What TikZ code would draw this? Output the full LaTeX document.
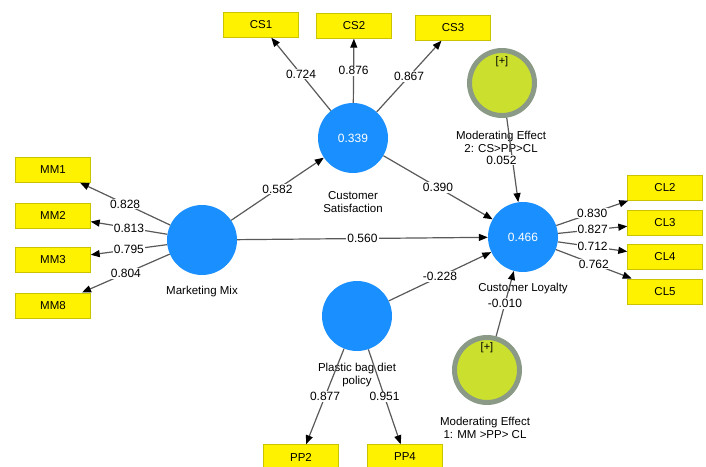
\documentclass[tikz,border=0pt]{standalone}
\usepackage{fontspec}
\setmainfont{Liberation Sans}
\usetikzlibrary{arrows.meta,positioning}
\definecolor{lvblue}{HTML}{1A8FFF}
\definecolor{modfill}{HTML}{CBE02E}
\definecolor{modring}{HTML}{8A9A86}
\definecolor{boxedge}{HTML}{C9C300}

\begin{document}
\begin{tikzpicture}[
    x=1pt, y=-1pt,
    lv/.style={circle, fill=lvblue, minimum size=70pt, inner sep=0pt, text=white, font=\fontsize{12}{14}\selectfont},
    modlv/.style={circle, fill=modfill, draw=modring, line width=5pt, minimum size=65pt, inner sep=0pt},
    ind/.style={rectangle, draw=boxedge, fill=yellow, minimum width=75pt, minimum height=25pt, font=\fontsize{11.5}{13}\selectfont},
    txt/.style={align=center, inner sep=0pt, font=\fontsize{11.5}{13}\selectfont},
    coef/.style={fill=white, inner sep=1pt, font=\fontsize{12}{14}\selectfont},
    arr/.style={-{Triangle[length=9pt, width=7pt, color=black]}, line width=1.2pt, draw=black!65}
]
\clip (0,0) rectangle (706,466);

% latent variables
\node[lv] (mm) at (202,240) {};
\node[lv] (cs) at (353,138) {0.339};
\node[lv] (cl) at (523,237) {0.466};
\node[lv] (pp) at (357,316) {};
\node[modlv] (mod2) at (502,83) {};
\node[modlv] (mod1) at (487,370) {};
\node[font=\fontsize{11}{13}\selectfont] (mod2plus) at ([yshift=21pt]mod2.center) {[+]};
\node[font=\fontsize{11}{13}\selectfont] (mod1plus) at ([yshift=22pt]mod1.center) {[+]};

% names
\node[txt] (mmtxt) at (202,292) {Marketing Mix};
\node[txt] (cstxt) at (353,202) {Customer\\Satisfaction};
\node[txt] (cltxt) at (523,289) {Customer Loyalty};
\node[txt] (pptxt) at (357,375) {Plastic bag diet\\policy};
\node[txt] (mod2txt) at (501,142) {Moderating Effect\\2: CS>PP>CL};
\node[txt] (mod1txt) at (485,428) {Moderating Effect\\1: MM >PP> CL};

% indicators
\node[ind] (mm1) at (53,170) {MM1};
\node[ind, below=20pt of mm1] (mm2) {MM2};
\node[ind, below=19pt of mm2] (mm3) {MM3};
\node[ind, below=20pt of mm3] (mm8) {MM8};
\node[ind] (cs1) at (261,25) {CS1};
\node[ind] (cs2) at (354,26) {CS2};
\node[ind] (cs3) at (453,28) {CS3};
\node[ind] (cl2) at (665,188) {CL2};
\node[ind, below=9pt of cl2] (cl3) {CL3};
\node[ind, below=9pt of cl3] (cl4) {CL4};
\node[ind, below=9pt of cl4] (cl5) {CL5};
\node[ind] (pp2) at (301,457) {PP2};
\node[ind] (pp4) at (405,457) {PP4};

% outer loadings
\draw[arr] (mm) -- node[coef] {0.828} (mm1);
\draw[arr] (mm) -- node[coef] {0.813} (mm2);
\draw[arr] (mm) -- node[coef] {0.795} (mm3);
\draw[arr] (mm) -- node[coef] {0.804} (mm8);
\draw[arr] (cs) -- node[coef] {0.724} (cs1);
\draw[arr] (cs) -- node[coef] {0.876} (cs2);
\draw[arr] (cs) -- node[coef] {0.867} (cs3);
\draw[arr] (cl) -- node[coef] {0.830} (cl2);
\draw[arr] (cl) -- node[coef] {0.827} (cl3);
\draw[arr] (cl) -- node[coef] {0.712} (cl4);
\draw[arr] (cl) -- node[coef] {0.762} (cl5);
\draw[arr] (pp) -- node[coef] {0.877} (pp2);
\draw[arr] (pp) -- node[coef] {0.951} (pp4);

% path coefficients
\draw[arr] (mm) -- node[coef] {0.582} (cs);
\draw[arr] (mm) -- node[coef] {0.560} (cl);
\draw[arr] (cs) -- node[coef] {0.390} (cl);
\draw[arr] (pp) -- node[coef] {-0.228} (cl);
\draw[arr] (mod2) -- node[coef, xshift=-11pt] {0.052} (cl);
\draw[arr] (mod1) -- node[coef] {-0.010} (cl);
\end{tikzpicture}
\end{document}
